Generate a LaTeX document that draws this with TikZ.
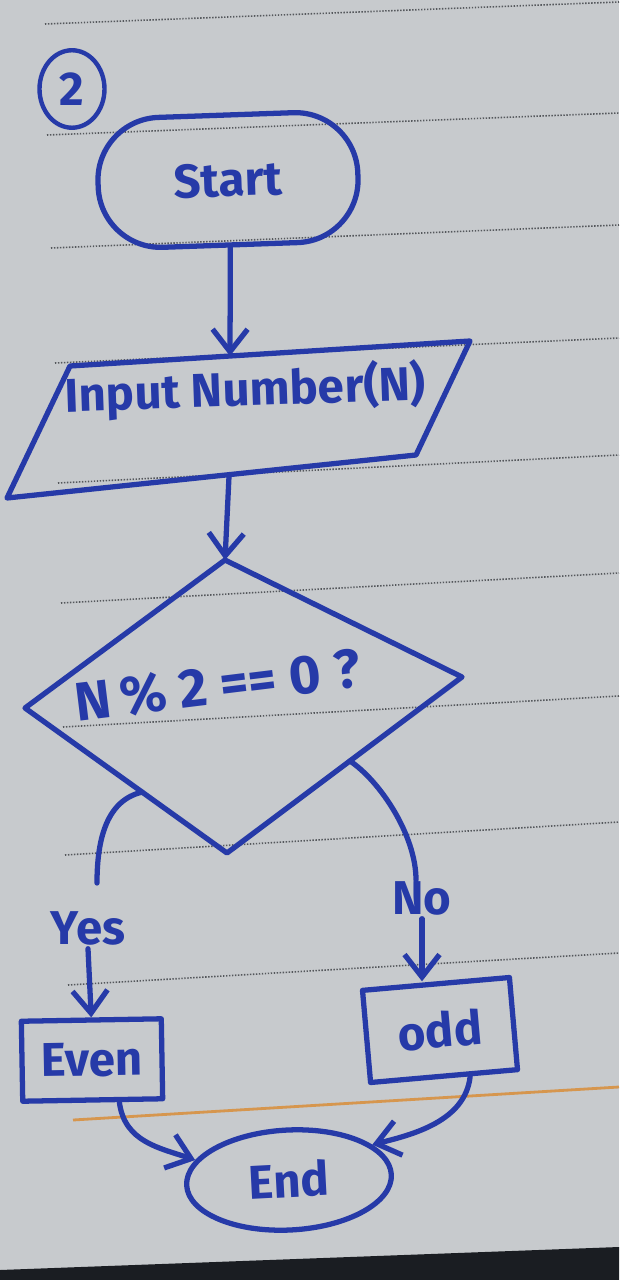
\documentclass[tikz,border=0pt]{standalone}
\usepackage{fontspec}
\setmainfont{Fira Sans}
\usepackage{tikz}
\usetikzlibrary{arrows.meta,calc,positioning,shapes.geometric}
\definecolor{ink}{RGB}{38,58,168}
\definecolor{paper}{RGB}{199,202,205}
\definecolor{rulegray}{RGB}{85,88,92}
\definecolor{marginorange}{RGB}{214,150,78}
\definecolor{shadow}{RGB}{26,29,34}
\tikzset{
  pen/.style={
    draw = ink,
    line width = 3pt,
    line cap = round,
    line join = round
  },
}
\tikzset{
  flow/.style={
    pen,
    -{Straight Barb[length=0.45cm,width=0.7cm]}
  },
}
\tikzset{
  handtext/.style={
    font = \fontsize{27}{30}\selectfont\bfseries,
    text = ink,
    inner sep = 2pt
  },
}
\tikzset{
  terminal/.style={
    pen,
    handtext,
    shape = rectangle,
    rounded corners = 1.25cm,
    minimum width = 5.2cm,
    minimum height = 2.6cm
  },
  endcap/.style={
    pen,
    handtext,
    shape = ellipse,
    minimum width = 4.1cm,
    minimum height = 2cm
  },
  procbox/.style={
    pen,
    handtext,
    shape = rectangle
  },
  num/.style={
    pen,
    handtext,
    line width = 2.5pt,
    shape = ellipse,
    minimum width = 1.3cm,
    minimum height = 1.55cm
  },
  ruling/.style={
    draw = rulegray,
    line width = 0.9pt,
    dash pattern = on 0.8pt off 0.9pt
  },
  marginline/.style={
    draw = marginorange,
    line width = 1.6pt
  }
}

\begin{document}
\begin{tikzpicture}[x=0.02cm,y=-0.02cm]
    \useasboundingbox (0,0) rectangle (619,1280);
    \fill[paper] (0,0) rectangle (619,1280);
    \fill[shadow] (0,1270) -- (619,1247) -- (619,1280) -- (0,1280) -- cycle;
    \foreach \xl/\yl/\yr in {45/24/2, 47/135/113, 51/248/225, 55/363/338, 58/483/455, 61/603/573, 63/727/696, 65/855/822, 68/985/953}{
    \draw[ruling] (\xl,\yl) -- (619,\yr);}
    \draw[marginline] (73,1120) -- (619,1087);

    \node[num] (num) at (72,89) {2};
    \node[terminal, rotate=2] (start) at (228,180) {Start};

    \coordinate (iTL) at (70,366);
    \coordinate (iTR) at (470,341);
    \coordinate (iBR) at (416,455);
    \coordinate (iBL) at (7,498);
    \draw[pen] (iTL) -- (iTR) -- (iBR) -- (iBL) -- cycle;
    \node[handtext, rotate=2, anchor=base] (input) at (246,406) {Input Number(N)};
    \coordinate (inTop) at ($(iTL)!0.4!(iTR)$);
    \coordinate (inBot) at ($(iBL)!0.543!(iBR)$);
    \draw[flow] (start.south) -- (inTop);

    \coordinate (dT) at (225,560);
    \coordinate (dR) at (462,677);
    \coordinate (dB) at (227,853);
    \coordinate (dL) at (25,708);
    \draw[pen] (dT) -- (dR) -- (dB) -- (dL) -- cycle;
    \node[handtext, font=\fontsize{31}{34}\selectfont\bfseries, rotate=7, anchor=base] (cond) at (220,704) {N\,\% 2 == 0 ?};
    \draw[flow] (inBot) -- (dT);

    \coordinate (yesOut) at ($(dL)!0.58!(dB)$);
    \coordinate (yesIn) at (97,883);
    \draw[pen] (yesOut) .. controls +(-35,8) and +(0,-45) .. (yesIn);
    \node[handtext] (yes) at (88,928) {Yes};
    \node[procbox, minimum width=2.8cm, minimum height=1.6cm, rotate=1] (even) at (92,1060) {Even};
    \draw[flow] (yes.south) -- (even.north);

    \coordinate (noOut) at ($(dB)!0.523!(dR)$);
    \coordinate (noIn) at (416,880);
    \draw[pen] (noOut) .. controls +(30,20) and +(0,-45) .. (noIn);
    \node[handtext] (no) at (422,898) {No};
    \node[procbox, minimum width=2.95cm, minimum height=1.85cm, rotate=5] (odd) at (440,1030) {odd};
    \draw[flow] (no.south) -- (no.south |- odd.north);

    \node[endcap, rotate=3] (end) at (289,1180) {End};
    \draw[flow] (even.-58) .. controls +(5,40) and +(-35,-12) .. (end.165);
    \draw[flow] (odd.-62) .. controls +(-5,45) and +(40,-10) .. (end.20);
\end{tikzpicture}
\end{document}
